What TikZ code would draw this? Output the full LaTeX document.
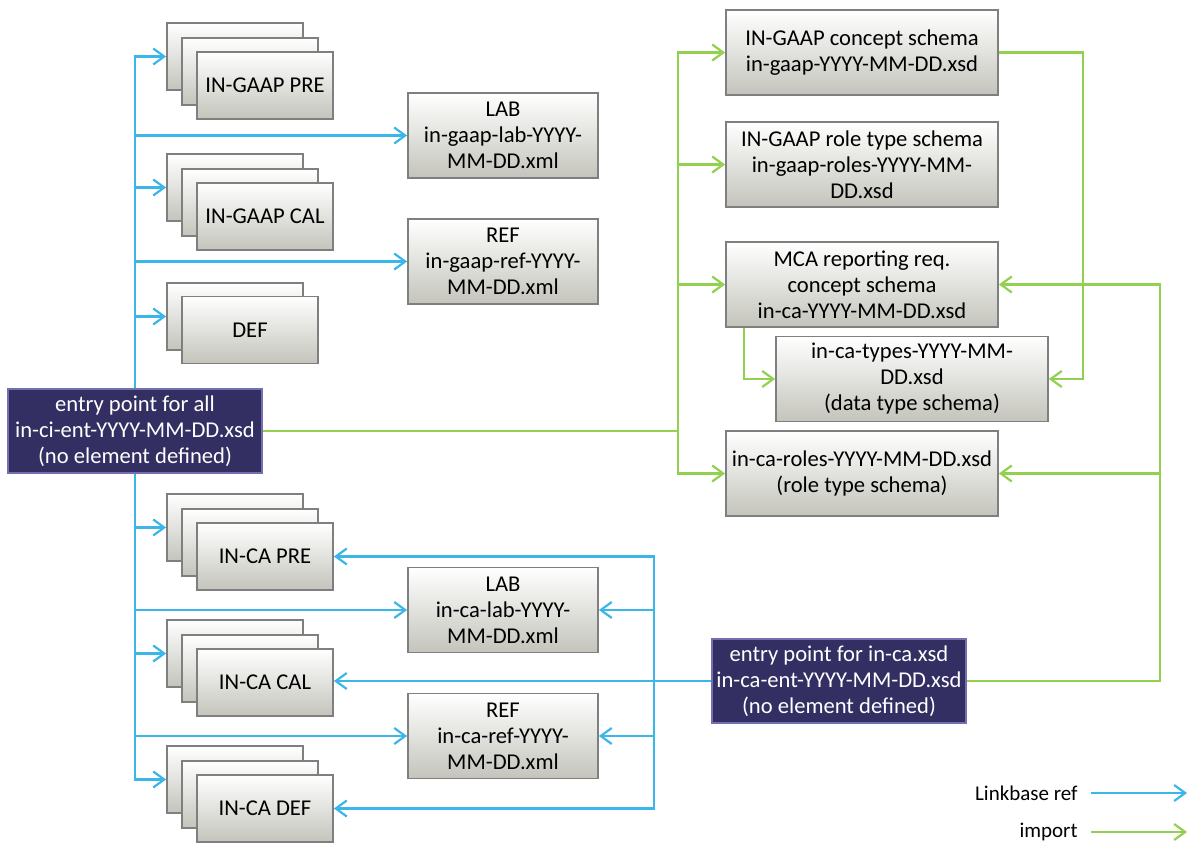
\documentclass[tikz,border=0pt]{standalone}
\usepackage{fontspec}
\setmainfont{Carlito}
\usepackage{tikz}
\usetikzlibrary{positioning,calc,arrows.meta}

\definecolor{lnkblue}{HTML}{3BB6E8}
\definecolor{impgreen}{HTML}{92D050}
\definecolor{entryfill}{HTML}{332F62}
\definecolor{entryline}{HTML}{7470B0}
\definecolor{boxline}{HTML}{7F7F7F}
\definecolor{boxshade}{HTML}{C4C4BC}

\tikzset{
    filebox/.style={draw=boxline, line width=0.9pt, top color=white, bottom color=boxshade,
        align=center, inner sep=0pt, font=\fontsize{11.3}{13}\selectfont},
    stackbox/.style={filebox, minimum width=68pt, minimum height=33.5pt},
    lbbox/.style={filebox, minimum width=95pt, minimum height=42.5pt},
    schemabox/.style={filebox, minimum width=136pt, minimum height=42.5pt},
    entrybox/.style={draw=entryline, line width=0.8pt, fill=entryfill, text=white, align=center,
        inner sep=0pt, minimum width=127pt, minimum height=42pt, font=\fontsize{11.3}{13}\selectfont},
    lnk/.style={draw=lnkblue, line width=1.1pt, -{Straight Barb[length=5.5pt,width=8pt]}},
    imp/.style={draw=impgreen, line width=1.1pt, -{Straight Barb[length=5.5pt,width=8pt]}},
    legtext/.style={font=\fontsize{10.5}{12}\selectfont, anchor=east, inner sep=0pt}
}

% three stacked linkbase sheets, #2 = centre y of the back sheet
\newcommand{\filestack}[3]{%
    \node[stackbox] (#1-a) at (235,#2) {};
    \node[stackbox] (#1-b) at (250,{#2+15}) {};
    \node[stackbox] (#1-c) at (265,{#2+29}) {#3};
}

\begin{document}
\begin{tikzpicture}[x=0.5pt, y=-0.5pt]
    \useasboundingbox (0,0) rectangle (1190,844);

    % IN-GAAP linkbases
    \filestack{gpre}{56.5}{IN-GAAP PRE}
    \filestack{gcal}{187.5}{IN-GAAP CAL}
    \node[stackbox] (gdef-a) at (235,316.5) {};
    \node[stackbox] (gdef-c) at (250,330) {DEF};
    \node[lbbox] (glab) at (503,135.5) {LAB\\in-gaap-lab-YYYY-\\MM-DD.xml};
    \node[lbbox] (gref) at (503,261.5) {REF\\in-gaap-ref-YYYY-\\MM-DD.xml};

    % IN-CA linkbases
    \filestack{cpre}{527.5}{IN-CA PRE}
    \filestack{ccal}{653.5}{IN-CA CAL}
    \filestack{cdef}{779.5}{IN-CA DEF}
    \node[lbbox] (clab) at (503,610) {LAB\\in-ca-lab-YYYY-\\MM-DD.xml};
    \node[lbbox] (cref) at (503,736) {REF\\in-ca-ref-YYYY-\\MM-DD.xml};

    % schemas
    \node[schemabox] (concept) at (862,52.5) {IN-GAAP concept schema\\in-gaap-YYYY-MM-DD.xsd};
    \node[schemabox] (roletype) at (862,164.5) {IN-GAAP role type schema\\in-gaap-roles-YYYY-MM-\\DD.xsd};
    \node[schemabox] (mca) at (862,284.5) {MCA reporting req.\\concept schema\\in-ca-YYYY-MM-DD.xsd};
    \node[schemabox] (types) at (912,379) {in-ca-types-YYYY-MM-\\DD.xsd\\(data type schema)};
    \node[schemabox] (roles) at (862,473.5) {in-ca-roles-YYYY-MM-DD.xsd\\(role type schema)};

    % entry points
    \node[entrybox] (entryall) at (135,431) {entry point for all\\in-ci-ent-YYYY-MM-DD.xsd\\(no element defined)};
    \node[entrybox] (entryca) at (839,681) {entry point for in-ca.xsd\\in-ca-ent-YYYY-MM-DD.xsd\\(no element defined)};

    % linkbase refs
    \foreach \t in {gpre-a, glab, gcal-a, gref, gdef-a}
        \draw[lnk] (entryall.north) |- (\t.west);
    \foreach \t in {cpre-a, clab, ccal-a, cref, cdef-a}
        \draw[lnk] (entryall.south) |- (\t.west);
    \draw[lnk] (entryca.west) -- (entryca.west -| ccal-c.east);
    \coordinate (cabus) at (654,681);
    \foreach \t in {cpre-c, clab, cref, cdef-c}
        \draw[lnk] (cabus) |- (\t.east);

    % imports
    \coordinate (gbus) at (678,431);
    \draw[impgreen, line width=1.1pt] (entryall.east) -- (gbus);
    \foreach \t in {concept, roletype, mca, roles}
        \draw[imp] (gbus) |- (\t.west);
    \draw[imp] (concept.east) -- ++(84,0) |- (types.east);
    \draw[imp] ($(mca.south west)+(19,0)$) |- (types.west);
    \draw[imp] (entryca.east) -- ++(193,0) |- (mca.east);
    \draw[imp] (entryca.east) -- ++(193,0) |- (roles.east);

    % legend
    \node[legtext] (lklab) at (1078,793) {Linkbase ref};
    \node[legtext] (imlab) at (1078,832) {import};
    \coordinate (lkend) at (1187,793);
    \coordinate (imend) at (1187,832);
    \draw[lnk] ([xshift=6.5pt]lklab.east) -- (lkend);
    \draw[imp] ([xshift=6.5pt]imlab.east) -- (imend);
\end{tikzpicture}
\end{document}
